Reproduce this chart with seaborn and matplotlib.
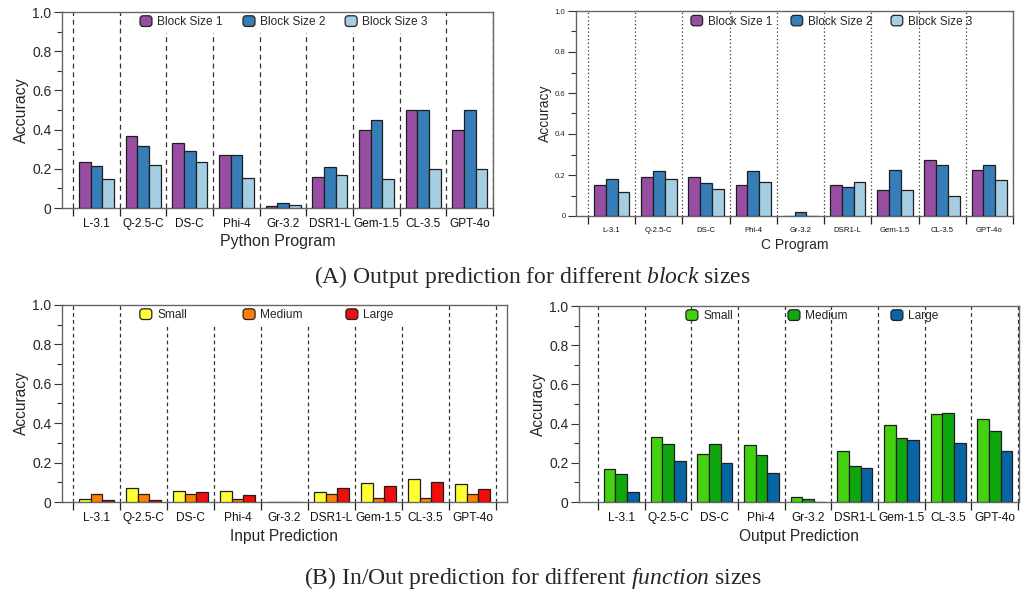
import numpy as np
import pandas as pd
import matplotlib.pyplot as plt
import seaborn as sns
from matplotlib.patches import Patch, FancyBboxPatch, Rectangle
from matplotlib.legend_handler import HandlerPatch
from matplotlib.legend import Legend

sns.set_style('ticks')
plt.rcParams['font.family'] = ['Liberation Sans', 'DejaVu Sans']
plt.rcParams['mathtext.fontset'] = 'custom'
plt.rcParams['mathtext.rm'] = 'Liberation Serif'
plt.rcParams['mathtext.it'] = 'Liberation Serif:italic'

# Data ##################################################################
models = ['L-3.1', 'Q-2.5-C', 'DS-C', 'Phi-4', 'Gr-3.2', 'DSR1-L', 'Gem-1.5', 'CL-3.5', 'GPT-4o']

block_groups = ['Block Size 1', 'Block Size 2', 'Block Size 3']
block_colors = ['#984ea3', '#377eb8', '#a6cee3']
size_groups = ['Small', 'Medium', 'Large']
in_colors = ['#ffff33', '#ff7f00', '#f00d0d']
out_colors = ['#44d10f', '#0ea80e', '#0865a3']

py_b1 = [0.235, 0.367, 0.333, 0.272, 0.010, 0.160, 0.400, 0.500, 0.400]
py_b2 = [0.214, 0.316, 0.291, 0.272, 0.024, 0.211, 0.450, 0.500, 0.500]
py_b3 = [0.150, 0.221, 0.233, 0.155, 0.015, 0.168, 0.150, 0.200, 0.200]

c_b1 = [0.153, 0.190, 0.190, 0.153, 0.000, 0.153, 0.125, 0.274, 0.225]
c_b2 = [0.180, 0.219, 0.162, 0.219, 0.020, 0.140, 0.225, 0.250, 0.250]
c_b3 = [0.117, 0.180, 0.133, 0.167, 0.000, 0.167, 0.125, 0.100, 0.175]

in_small = [0.017, 0.071, 0.058, 0.058, 0.000, 0.052, 0.097, 0.117, 0.093]
in_medium = [0.042, 0.042, 0.042, 0.014, 0.000, 0.042, 0.022, 0.022, 0.042]
in_large = [0.012, 0.012, 0.050, 0.037, 0.000, 0.073, 0.083, 0.100, 0.064]

out_small = [0.166, 0.333, 0.243, 0.289, 0.025, 0.261, 0.392, 0.447, 0.426]
out_medium = [0.141, 0.294, 0.294, 0.238, 0.014, 0.182, 0.324, 0.455, 0.360]
out_large = [0.050, 0.209, 0.197, 0.148, 0.000, 0.171, 0.316, 0.299, 0.258]


def to_long(series, groups):
    rows = []
    for g, vals in zip(groups, series):
        for m, v in zip(models, vals):
            rows.append((m, g, v))
    return pd.DataFrame(rows, columns=['model', 'size', 'acc'])


def round_box(legend, orig_handle, xdescent, ydescent, width, height, fontsize):
    return FancyBboxPatch((-xdescent, -ydescent), width, height,
                          boxstyle='round,pad=0,rounding_size=2.2')


# Panel drawing ###########################################################
def draw_panel(ax, df, groups, colors, xlim, xlabel, fs, ls, leg_x, white_box):
    xt_fs, yt_fs, lab_fs, leg_fs, xpad = fs
    sns.barplot(data=df, x='model', y='acc', hue='size', order=models, hue_order=groups,
                palette=colors, saturation=1, width=0.75, errorbar=None,
                edgecolor='#1e1e1e', linewidth=0.9, legend=False, ax=ax, zorder=3)
    bounds = np.arange(-0.5, 9.0, 1.0)
    for b in bounds:
        ax.axvline(b, color='#333333', lw=0.9, ls=ls, zorder=1)
    ax.set_xlim(*xlim)
    ax.set_ylim(0, 1)
    ax.set_xticks(bounds)
    ax.set_xticklabels([])
    ax.set_xticks(range(len(models)), labels=models, minor=True)
    ax.tick_params(axis='x', which='major', length=6, width=0.9, color='#222222', direction='out')
    ax.tick_params(axis='x', which='minor', length=0, labelsize=xt_fs, pad=xpad, colors='#111111')
    ax.set_yticks(np.arange(0, 1.01, 0.2))
    ax.set_yticklabels(['0', '0.2', '0.4', '0.6', '0.8', '1.0'])
    ax.set_yticks(np.arange(0.1, 1.0, 0.2), minor=True)
    ax.tick_params(axis='y', which='major', length=6, width=0.8, labelsize=yt_fs, pad=1.5,
                   color='#333333', direction='out')
    ax.tick_params(axis='y', which='minor', length=3.5, width=0.8, color='#333333', direction='out')
    ax.set_xlabel(xlabel, fontsize=lab_fs, labelpad=3)
    ax.set_ylabel('Accuracy', fontsize=lab_fs, labelpad=2)
    for s in ax.spines.values():
        s.set_visible(True)
        s.set_color('#666666')
        s.set_linewidth(1.0)
    ax.grid(False)

    # legend: one entry per slot so the columns keep an even spacing
    if white_box:
        ax.add_patch(Rectangle((leg_x[0] - 0.01, 0.895), leg_x[2] - leg_x[0] + 0.185, 0.105,
                               transform=ax.transAxes, facecolor='white', edgecolor='none', zorder=2))
    for lab, col, x in zip(groups, colors, leg_x):
        h = Patch(facecolor=col, edgecolor='#222222', linewidth=0.9)
        leg = Legend(ax, [h], [lab], loc='center left', bbox_to_anchor=(x, 0.949),
                     frameon=False, fontsize=leg_fs, handlelength=1.0, handleheight=1.0,
                     handletextpad=0.45, borderpad=0, borderaxespad=0,
                     handler_map={Patch: HandlerPatch(patch_func=round_box)})
        ax.add_artist(leg)


fig = plt.figure(figsize=(10.31, 5.92), dpi=100)
W, H = 1031, 592


def axes_px(left, right, top, bottom):
    return fig.add_axes([left / W, 1 - bottom / H, (right - left) / W, (bottom - top) / H])


ax1 = axes_px(62, 493, 12, 208)
ax2 = axes_px(576, 1013, 11, 216)
ax3 = axes_px(62, 507, 305, 502)
ax4 = axes_px(579, 1019, 306, 502)

draw_panel(ax1, to_long([py_b1, py_b2, py_b3], block_groups), block_groups, block_colors,
           (-0.736, 8.5), 'Python Program', (8.5, 10, 11.5, 8.6, 7), (0, (4, 3)),
           [0.181, 0.42, 0.657], True)
draw_panel(ax2, to_long([c_b1, c_b2, c_b3], block_groups), block_groups, block_colors,
           (-0.754, 8.48), 'C Program', (5.6, 5.6, 10, 8.4, 8), (0, (1, 2)),
           [0.263, 0.492, 0.721], False)
draw_panel(ax3, to_long([in_small, in_medium, in_large], size_groups), size_groups, in_colors,
           (-0.734, 8.734), 'Input Prediction', (8.6, 10, 11.2, 8.6, 7.5), (0, (3, 2.5)),
           [0.175, 0.407, 0.638], True)
draw_panel(ax4, to_long([out_small, out_medium, out_large], size_groups), size_groups, out_colors,
           (-0.907, 8.52), 'Output Prediction', (8.6, 10, 11.2, 8.6, 7.5), (0, (3, 2.5)),
           [0.243, 0.475, 0.709], False)

fig.text(0.516, 0.532, r'(A) Output prediction for different $\mathit{block}$ sizes',
         ha='center', va='center', fontsize=17, family='Liberation Serif')
fig.text(0.517, 0.024, r'(B) In/Out prediction for different $\mathit{function}$ sizes',
         ha='center', va='center', fontsize=17, family='Liberation Serif')

fig.savefig('out.png', dpi=100)
